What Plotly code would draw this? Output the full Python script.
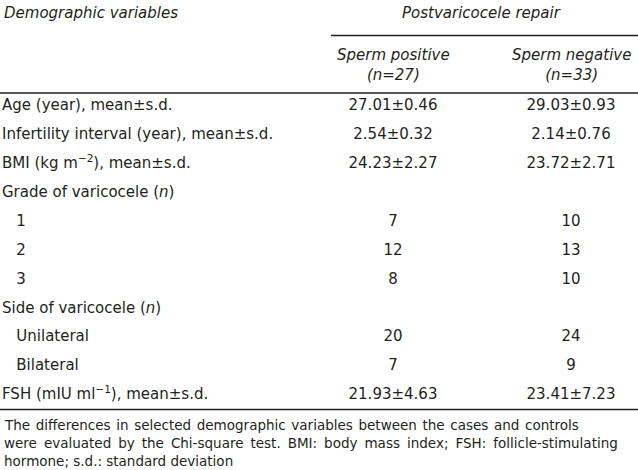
import plotly.graph_objects as go

# ---- data ----
row_labels = [
    "Age (year), mean±s.d.",
    "Infertility interval (year), mean±s.d.",
    "BMI (kg m<sup>−2</sup>), mean±s.d.",
    "Grade of varicocele (<i>n</i>)",
    "   1",
    "   2",
    "   3",
    "Side of varicocele (<i>n</i>)",
    "   Unilateral",
    "   Bilateral",
    "FSH (mIU ml<sup>−1</sup>), mean±s.d.",
]
sperm_positive = ["27.01±0.46", "2.54±0.32", "24.23±2.27", "", "7", "12", "8", "", "20", "7", "21.93±4.63"]
sperm_negative = ["29.03±0.93", "2.14±0.76", "23.72±2.71", "", "10", "13", "10", "", "24", "9", "23.41±7.23"]
col_headers = ["<i>Sperm positive<br>(n=27)</i>", "<i>Sperm negative<br>(n=33)</i>"]
group_header = "<i>Postvaricocele repair</i>"
stub_header = "<i>Demographic variables</i>"
footnote = [
    "The differences in selected demographic variables between the cases and controls",
    "were evaluated by the Chi-square test. BMI: body mass index; FSH: follicle-stimulating",
    "hormone; s.d.: standard deviation",
]

FONT = "DejaVu Sans"
COLOR = "#231f20"
FS = 15
FS_NOTE = 13.5

# layout geometry (pixels)
W, H = 638, 470
row0, step = 106.5, 28.9
col_x = [393, 571]
rows_y = [row0 + step * i for i in range(len(row_labels))]

# extra word spacing to imitate the justified footnote (last line not justified)
gap_fill = [" \u200a", " \u2009", " "]

fig = go.Figure()
fig.add_trace(go.Scatter(x=[2] * len(row_labels), y=rows_y, mode="text", text=row_labels,
                         textposition="middle right", textfont=dict(family=FONT, size=FS, color=COLOR),
                         hoverinfo="skip", showlegend=False))
for cx, vals in zip(col_x, [sperm_positive, sperm_negative]):
    ys = [y for y, v in zip(rows_y, vals) if v]
    ts = [v for v in vals if v]
    fig.add_trace(go.Scatter(x=[cx] * len(ts), y=ys, mode="text", text=ts,
                             textposition="middle center", textfont=dict(family=FONT, size=FS, color=COLOR),
                             hoverinfo="skip", showlegend=False))

ann = []
ann.append(dict(x=2, y=13, text=stub_header, xanchor="left", yanchor="middle", showarrow=False,
                font=dict(family=FONT, size=FS, color=COLOR)))
ann.append(dict(x=481, y=13, text=group_header, xanchor="center", yanchor="middle", showarrow=False,
                font=dict(family=FONT, size=FS, color=COLOR)))
for cx, t in zip(col_x, col_headers):
    ann.append(dict(x=cx, y=64.5, text=t, xanchor="center", yanchor="middle", showarrow=False,
                    font=dict(family=FONT, size=FS, color=COLOR)))
for i, line in enumerate(footnote):
    shown = gap_fill[i].join(line.split(" "))
    ann.append(dict(x=2, y=425 + 17.8 * i, text=shown, xanchor="left", yanchor="middle", showarrow=False,
                    font=dict(family=FONT, size=FS_NOTE, color=COLOR)))
for a in ann:
    a["xref"] = "x"
    a["yref"] = "y"

shapes = [
    dict(type="line", x0=331, x1=638, y0=35.5, y1=35.5, line=dict(color=COLOR, width=1.5)),
    dict(type="line", x0=0, x1=638, y0=93, y1=93, line=dict(color=COLOR, width=1.5)),
    dict(type="line", x0=0, x1=638, y0=409.5, y1=409.5, line=dict(color=COLOR, width=1.5)),
]
for s in shapes:
    s["xref"] = "x"
    s["yref"] = "y"

fig.update_layout(
    width=W, height=H, margin=dict(l=0, r=0, t=0, b=0),
    paper_bgcolor="white", plot_bgcolor="white",
    xaxis=dict(range=[0, W], visible=False, fixedrange=True),
    yaxis=dict(range=[H, 0], visible=False, fixedrange=True),
    annotations=ann, shapes=shapes,
)
fig.write_html("out.html", config={"displayModeBar": False, "staticPlot": True},
               post_script="document.body.style.margin='0';document.body.style.overflow='hidden';")
